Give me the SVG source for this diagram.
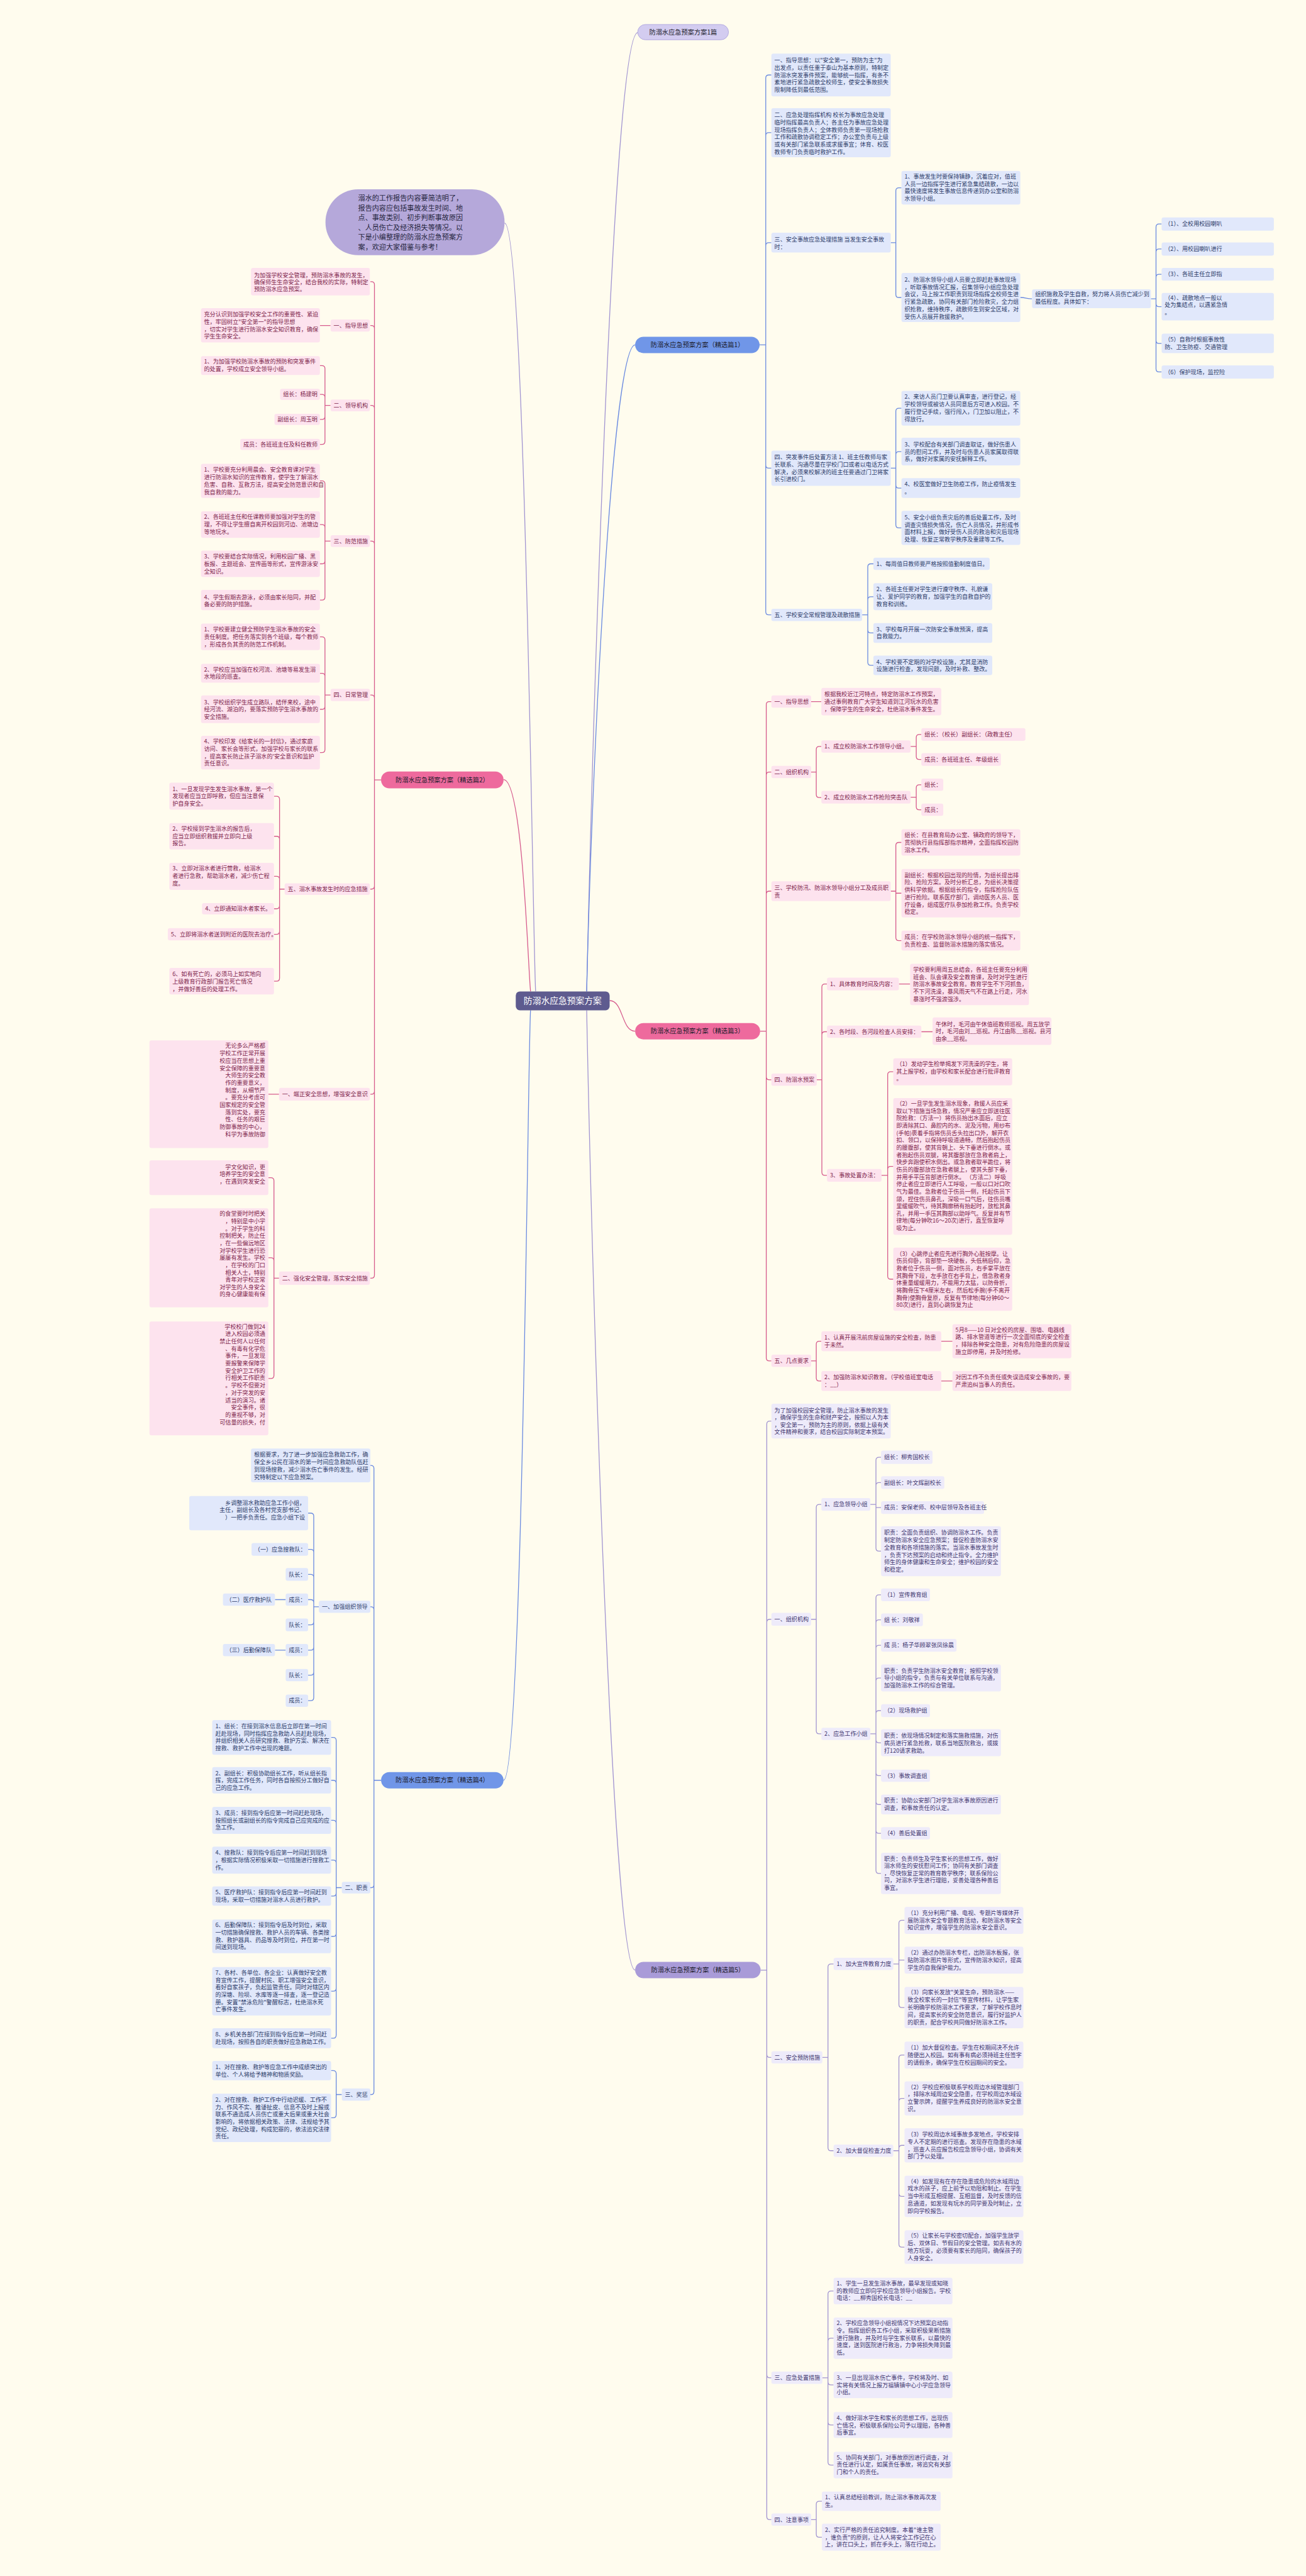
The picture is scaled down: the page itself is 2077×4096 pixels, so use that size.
<svg xmlns="http://www.w3.org/2000/svg" width="2077" height="4096" viewBox="0 0 2077 4096">
<style>
text{font-family:"Noto Sans CJK SC","Noto Sans",sans-serif;font-size:11.2px}
.tb{fill:#2d3c69}.tp{fill:#7d1f4c}.tu{fill:#40366f}
.rb{fill:#e1e8fb}.rp{fill:#fde3ee}.ru{fill:#eeebfa}
.cb,.cp,.cu{fill:none;stroke-width:1.6}
.cb{stroke:#6a8ae0}.cp{stroke:#d65a8c}.cu{stroke:#a194d1}
.mn{font-size:12.6px;fill:#1c1c2c;text-anchor:middle}
.e{text-anchor:end}
</style>
<rect width="2077" height="4096" fill="#fffcee"/>
<g transform="scale(0.81133)">
<g id="connectors">
<path class="cu" d="M989 437 C1030 440 1045 1900 1050 1943"/>
<path class="cu" d="M1150 1943 C1160 1500 1200 64 1250 64"/>
<path class="cb" d="M1150 1943 C1160 1500 1200 676 1245 676"/>
<path class="cp" d="M1195 1961 C1222 1961 1218 2021 1245 2021"/>
<path class="cu" d="M1150 1980 C1160 2500 1200 3861 1245 3861"/>
<path class="cp" d="M987 1528 C1025 1528 1035 1900 1040 1943"/>
<path class="cb" d="M987 3489 C1025 3489 1035 2020 1040 1980"/>
<path class="cb" d="M1489 676 H1501 V153 Q1501 147 1507 147 H1512 M1489 676 H1501 V266 Q1501 260 1507 260 H1512 M1489 676 H1501 V481.5 Q1501 475.5 1507 475.5 H1512 M1489 676 H1501 V911.5 Q1501 917.5 1507 917.5 H1512 M1489 676 H1501 V1199 Q1501 1205 1507 1205 H1512"/>
<path class="cb" d="M1746 475.5 H1756 V374 Q1756 368 1762 368 H1767 M1746 475.5 H1756 V577 Q1756 583 1762 583 H1767 M2000 583 C2012 583 2011 585.5 2023 585.5"/>
<path class="cb" d="M2256 585.5 H2266 V445 Q2266 439 2272 439 H2277 M2256 585.5 H2266 V494 Q2266 488 2272 488 H2277 M2256 585.5 H2266 V543.5 Q2266 537.5 2272 537.5 H2277 M2256 585.5 H2266 V595 Q2266 601 2272 601 H2277 M2256 585.5 H2266 V667 Q2266 673 2272 673 H2277 M2256 585.5 H2266 V723 Q2266 729 2272 729 H2277"/>
<path class="cb" d="M1746 917.5 H1756 V806 Q1756 800 1762 800 H1767 M1746 917.5 H1756 V891 Q1756 885 1762 885 H1767 M1746 917.5 H1756 V950.5 Q1756 956.5 1762 956.5 H1767 M1746 917.5 H1756 V1028.5 Q1756 1034.5 1762 1034.5 H1767"/>
<path class="cb" d="M1690 1205 H1701 V1111 Q1701 1105 1707 1105 H1712 M1690 1205 H1701 V1175.5 Q1701 1169.5 1707 1169.5 H1712 M1690 1205 H1701 V1234.5 Q1701 1240.5 1707 1240.5 H1712 M1690 1205 H1701 V1298 Q1701 1304 1707 1304 H1712"/>
<path class="cp" d="M1490 2021 H1502 V1381 Q1502 1375 1508 1375 H1512 M1490 2021 H1502 V1519 Q1502 1513 1508 1513 H1512 M1490 2021 H1502 V1752.5 Q1502 1746.5 1508 1746.5 H1512 M1490 2021 H1502 V2110 Q1502 2116 1508 2116 H1512 M1490 2021 H1502 V2661 Q1502 2667 1508 2667 H1512"/>
<path class="cp" d="M1590 1375 H1610 M1590 1513 H1600 V1469 Q1600 1463 1606 1463 H1610 M1590 1513 H1600 V1557 Q1600 1563 1606 1563 H1610"/>
<path class="cp" d="M1785 1463 H1796 V1445.5 Q1796 1439.5 1802 1439.5 H1806 M1785 1463 H1796 V1482.5 Q1796 1488.5 1802 1488.5 H1806 M1785 1562.5 H1796 V1544 Q1796 1538 1802 1538 H1806 M1785 1562.5 H1796 V1581 Q1796 1587 1802 1587 H1806"/>
<path class="cp" d="M1746 1746.5 H1756 V1657 Q1756 1651 1762 1651 H1767 M1746 1746.5 H1756 V1750.5 H1767 M1746 1746.5 H1756 V1837.5 Q1756 1843.5 1762 1843.5 H1767"/>
<path class="cp" d="M1601 2116 H1611 V1934.5 Q1611 1928.5 1617 1928.5 H1621 M1601 2116 H1611 V2028 Q1611 2022 1617 2022 H1621 M1601 2116 H1611 V2297.5 Q1611 2303.5 1617 2303.5 H1621 M1762 1928.5 H1784 M1806 2022 H1828"/>
<path class="cp" d="M1728 2303.5 H1740 V2106.5 Q1740 2100.5 1746 2100.5 H1751 M1728 2303.5 H1740 V2292 Q1740 2286 1746 2286 H1751 M1728 2303.5 H1740 V2501 Q1740 2507 1746 2507 H1751"/>
<path class="cp" d="M1590 2667 H1600 V2634.5 Q1600 2628.5 1606 2628.5 H1610 M1590 2667 H1600 V2700.5 Q1600 2706.5 1606 2706.5 H1610 M1845 2628.5 H1867 M1845 2706.5 H1867"/>
<path class="cu" d="M1491 3861 H1503 V2791 Q1503 2785 1509 2785 H1512 M1491 3861 H1503 V3179.5 Q1503 3173.5 1509 3173.5 H1512 M1491 3861 H1503 V4026 Q1503 4032 1509 4032 H1512 M1491 3861 H1503 V4654 Q1503 4660 1509 4660 H1512 M1491 3861 H1503 V4932 Q1503 4938 1509 4938 H1512"/>
<path class="cu" d="M1590 3173.5 H1600 V2954.5 Q1600 2948.5 1606 2948.5 H1610 M1590 3173.5 H1600 V3392 Q1600 3398 1606 3398 H1610"/>
<path class="cu" d="M1706 2948.5 H1717 V2862 Q1717 2856 1723 2856 H1727 M1706 2948.5 H1717 V2911.5 Q1717 2905.5 1723 2905.5 H1727 M1706 2948.5 H1717 V2954.5 H1727 M1706 2948.5 H1717 V3034 Q1717 3040 1723 3040 H1727"/>
<path class="cu" d="M1706 3398 H1717 V3131.5 Q1717 3125.5 1723 3125.5 H1727 M1706 3398 H1717 V3180.5 Q1717 3174.5 1723 3174.5 H1727 M1706 3398 H1717 V3230.5 Q1717 3224.5 1723 3224.5 H1727 M1706 3398 H1717 V3294.5 Q1717 3288.5 1723 3288.5 H1727 M1706 3398 H1717 V3358.5 Q1717 3352.5 1723 3352.5 H1727 M1706 3398 H1717 V3409.5 Q1717 3415.5 1723 3415.5 H1727 M1706 3398 H1717 V3474 Q1717 3480 1723 3480 H1727 M1706 3398 H1717 V3530.5 Q1717 3536.5 1723 3536.5 H1727 M1706 3398 H1717 V3587 Q1717 3593 1723 3593 H1727 M1706 3398 H1717 V3665.5 Q1717 3671.5 1723 3671.5 H1727"/>
<path class="cu" d="M1612 4032 H1623 V3855 Q1623 3849 1629 3849 H1634 M1612 4032 H1623 V4209 Q1623 4215 1629 4215 H1634"/>
<path class="cu" d="M1751 3849 H1762 V3769.5 Q1762 3763.5 1768 3763.5 H1773 M1751 3849 H1762 V3841.5 H1773 M1751 3849 H1762 V3928.5 Q1762 3934.5 1768 3934.5 H1773"/>
<path class="cu" d="M1751 4215 H1762 V4033.5 Q1762 4027.5 1768 4027.5 H1773 M1751 4215 H1762 V4118.5 Q1762 4112.5 1768 4112.5 H1773 M1751 4215 H1762 V4210.5 Q1762 4204.5 1768 4204.5 H1773 M1751 4215 H1762 V4298.5 Q1762 4304.5 1768 4304.5 H1773 M1751 4215 H1762 V4398 Q1762 4404 1768 4404 H1773"/>
<path class="cu" d="M1612 4660 H1623 V4496 Q1623 4490 1629 4490 H1634 M1612 4660 H1623 V4588.5 Q1623 4582.5 1629 4582.5 H1634 M1612 4660 H1623 V4668 Q1623 4674 1629 4674 H1634 M1612 4660 H1623 V4746.5 Q1623 4752.5 1629 4752.5 H1634 M1612 4660 H1623 V4825 Q1623 4831 1629 4831 H1634"/>
<path class="cu" d="M1590 4938 H1600 V4908 Q1600 4902 1606 4902 H1611 M1590 4938 H1600 V4966.5 Q1600 4972.5 1606 4972.5 H1611"/>
<path class="cp" d="M747 1528.5 H734 V558 Q734 552 728 552 H726 M747 1528.5 H734 V644 Q734 638 728 638 H726 M747 1528.5 H734 V800.5 Q734 794.5 728 794.5 H726 M747 1528.5 H734 V1066.5 Q734 1060.5 728 1060.5 H726 M747 1528.5 H734 V1368 Q734 1362 728 1362 H726 M747 1528.5 H734 V1736.5 Q734 1742.5 728 1742.5 H726 M747 1528.5 H734 V2138.5 Q734 2144.5 728 2144.5 H726 M747 1528.5 H734 V2499 Q734 2505 728 2505 H726"/>
<path class="cp" d="M648 638 H627 M648 794.5 H637 V722.5 Q637 716.5 631 716.5 H627 M648 794.5 H637 V779 Q637 773 631 773 H627 M648 794.5 H637 V816 Q637 822 631 822 H627 M648 794.5 H637 V865 Q637 871 631 871 H627"/>
<path class="cp" d="M648 1060.5 H637 V948.5 Q637 942.5 631 942.5 H627 M648 1060.5 H637 V1034 Q637 1028 631 1028 H627 M648 1060.5 H637 V1099 Q637 1105 631 1105 H627 M648 1060.5 H637 V1170 Q637 1176 631 1176 H627"/>
<path class="cp" d="M648 1362 H637 V1254 Q637 1248 631 1248 H627 M648 1362 H637 V1325.5 Q637 1319.5 631 1319.5 H627 M648 1362 H637 V1384 Q637 1390 631 1390 H627 M648 1362 H637 V1469 Q637 1475 631 1475 H627"/>
<path class="cp" d="M558 1742.5 H548 V1566.5 Q548 1560.5 542 1560.5 H537 M558 1742.5 H548 V1645 Q548 1639 542 1639 H537 M558 1742.5 H548 V1723.5 Q548 1717.5 542 1717.5 H537 M558 1742.5 H548 V1775 Q548 1781 542 1781 H537 M558 1742.5 H548 V1825 Q548 1831 542 1831 H537 M558 1742.5 H548 V1917 Q548 1923 542 1923 H537"/>
<path class="cp" d="M547 2144.5 H526 M547 2505 H537 V2314 Q537 2308 531 2308 H526 M547 2505 H537 V2471 Q537 2465 531 2465 H526 M547 2505 H537 V2695.5 Q537 2701.5 531 2701.5 H526"/>
<path class="cb" d="M747 3489 H733 V2878 Q733 2872 727 2872 H726 M747 3489 H733 V3155 Q733 3149 727 3149 H726 M747 3489 H733 V3693.5 Q733 3699.5 727 3699.5 H726 M747 3489 H733 V4099 Q733 4105 727 4105 H726"/>
<path class="cb" d="M625 3149 H615 V2971.5 Q615 2965.5 609 2965.5 H604 M625 3149 H615 V3042.5 Q615 3036.5 609 3036.5 H604 M625 3149 H615 V3091.5 Q615 3085.5 609 3085.5 H604 M625 3149 H615 V3141 Q615 3135 609 3135 H604 M625 3149 H615 V3178.5 Q615 3184.5 609 3184.5 H604 M625 3149 H615 V3228 Q615 3234 609 3234 H604 M625 3149 H615 V3277 Q615 3283 609 3283 H604 M625 3149 H615 V3327 Q615 3333 609 3333 H604 M560 3135 H539 M560 3234 H539"/>
<path class="cb" d="M670 3699.5 H659 V3411 Q659 3405 653 3405 H649 M670 3699.5 H659 V3495 Q659 3489 653 3489 H649 M670 3699.5 H659 V3573.5 Q659 3567.5 653 3567.5 H649 M670 3699.5 H659 V3651.5 Q659 3645.5 653 3645.5 H649 M670 3699.5 H659 V3710 Q659 3716 653 3716 H649 M670 3699.5 H659 V3789 Q659 3795 653 3795 H649 M670 3699.5 H659 V3896.5 Q659 3902.5 653 3902.5 H649 M670 3699.5 H659 V3988.5 Q659 3994.5 653 3994.5 H649"/>
<path class="cb" d="M670 4105 H659 V4064 Q659 4058 653 4058 H649 M670 4105 H659 V4144.5 Q659 4150.5 653 4150.5 H649"/>
</g>

<g id="center"><rect x="1011" y="1943" width="184" height="37" rx="8" fill="#5e5b8f"/><text x="1103" y="1967" style="font-size:17px;fill:#fff;text-anchor:middle">防溺水应急预案方案</text></g>
<g id="intro"><rect x="638" y="371" width="351" height="129" rx="64" fill="#b5a8da"/><text x="702" y="393" style="font-size:13.7px;fill:#262640"><tspan x="702">溺水的工作报告内容要简洁明了，</tspan><tspan x="702" dy="19.3">报告内容应包括事故发生时间、地</tspan><tspan x="702" dy="19.3">点、事故类别、初步判断事故原因</tspan><tspan x="702" dy="19.3">、人员伤亡及经济损失等情况。以</tspan><tspan x="702" dy="19.3">下是小编整理的防溺水应急预案方</tspan><tspan x="702" dy="19.3">案，欢迎大家借鉴与参考！</tspan></text></g>
<g id="p0"><rect x="1250" y="48" width="178" height="30" rx="15" fill="#d3ccf0" stroke="#a79ddb"/><text class="mn" x="1339" y="67.5">防溺水应急预案方案1篇</text></g>

<g id="n1"><rect x="1245" y="660" width="244" height="32" rx="16" fill="#7096e8"/><text class="mn" x="1367" y="680.5">防溺水应急预案方案（精选篇1）</text></g>
<g id="b1a"><rect class="rb" x="1512" y="105" width="234" height="84" rx="4"/><text class="tb" x="1518" y="122"><tspan x="1518">一、指导思想：以"安全第一，预防为主"为</tspan><tspan x="1518" dy="14.5">出发点，以责任重于泰山为基本原则，特制定</tspan><tspan x="1518" dy="14.5">防溺水突发事件预案，能够统一指挥，有条不</tspan><tspan x="1518" dy="14.5">紊地进行紧急疏散全校师生，使安全事故损失</tspan><tspan x="1518" dy="14.5">限制降低到最低范围。</tspan></text></g>
<g id="b1b"><rect class="rb" x="1512" y="212" width="234" height="96" rx="4"/><text class="tb" x="1518" y="229.5"><tspan x="1518">二、应急处理指挥机构 校长为事故应急处理</tspan><tspan x="1518" dy="14.5">临时指挥最高负责人；各主任为事故应急处理</tspan><tspan x="1518" dy="14.5">现场指挥负责人；全体教师负责第一现场抢救</tspan><tspan x="1518" dy="14.5">工作和疏散协调稳定工作；办公室负责与上级</tspan><tspan x="1518" dy="14.5">或有关部门紧急联系或求援事宜；体育、校医</tspan><tspan x="1518" dy="14.5">教师专门负责临时救护工作。</tspan></text></g>
<g id="b1c"><rect class="rb" x="1512" y="456" width="234" height="39" rx="4"/><text class="tb" x="1518" y="473"><tspan x="1518">三、安全事故应急处理措施 当发生安全事故</tspan><tspan x="1518" dy="14.5">时：</tspan></text></g>
<g id="b1c1"><rect class="rb" x="1767" y="335" width="233" height="66" rx="4"/><text class="tb" x="1773" y="350"><tspan x="1773">1、事故发生时要保持镇静，沉着应对，值班</tspan><tspan x="1773" dy="14.5">人员一边指挥学生进行紧急集结疏散，一边以</tspan><tspan x="1773" dy="14.5">最快速度将发生事故信息传递到办公室和防溺</tspan><tspan x="1773" dy="14.5">水领导小组。</tspan></text></g>
<g id="b1c2"><rect class="rb" x="1767" y="535" width="233" height="96" rx="4"/><text class="tb" x="1773" y="552"><tspan x="1773">2、防溺水领导小组人员要立即赶赴事故现场</tspan><tspan x="1773" dy="14.5">，听取事故情况汇报，召集领导小组应急处理</tspan><tspan x="1773" dy="14.5">会议，马上按工作职责到现场指挥全校师生进</tspan><tspan x="1773" dy="14.5">行紧急疏散，协同有关部门抢险救灾，全力组</tspan><tspan x="1773" dy="14.5">织抢救，维持秩序，疏散师生到安全区域，对</tspan><tspan x="1773" dy="14.5">受伤人员展开救援救护。</tspan></text></g>
<g id="b1c2a"><rect class="rb" x="2023" y="567" width="233" height="37" rx="4"/><text class="tb" x="2029" y="581"><tspan x="2029">组织施救及学生自救，努力将人员伤亡减少到</tspan><tspan x="2029" dy="14.5">最低程度。具体如下：</tspan></text></g>
<g id="b1s1"><rect class="rb" x="2277" y="426" width="220" height="26" rx="4"/><text class="tb" x="2283" y="443">（1）、全校用校园喇叭</text></g>
<g id="b1s2"><rect class="rb" x="2277" y="475" width="220" height="26" rx="4"/><text class="tb" x="2283" y="492">（2）、用校园喇叭进行</text></g>
<g id="b1s3"><rect class="rb" x="2277" y="525" width="220" height="25" rx="4"/><text class="tb" x="2283" y="541.5">（3）、各班主任立即指</text></g>
<g id="b1s4"><rect class="rb" x="2277" y="574" width="220" height="54" rx="4"/><text class="tb" x="2283" y="587.5"><tspan x="2283">（4）、疏散地点一般以</tspan><tspan x="2283" dy="14.5">处为集结点，以遇紧急情</tspan><tspan x="2283" dy="14.5">。</tspan></text></g>
<g id="b1s5"><rect class="rb" x="2277" y="654" width="220" height="38" rx="4"/><text class="tb" x="2283" y="669"><tspan x="2283">（5）自救时根据事故性</tspan><tspan x="2283" dy="14.5">防、卫生防疫、交通管理</tspan></text></g>
<g id="b1s6"><rect class="rb" x="2277" y="716" width="220" height="26" rx="4"/><text class="tb" x="2283" y="733">（6）保护现场，监控险</text></g>
<g id="b1d"><rect class="rb" x="1512" y="883" width="234" height="69" rx="4"/><text class="tb" x="1518" y="900"><tspan x="1518">四、突发事件后处置方法 1、班主任教师与家</tspan><tspan x="1518" dy="14.5">长联系、沟通尽量在学校门口或者以电话方式</tspan><tspan x="1518" dy="14.5">解决，必须来校解决的班主任要通过门卫将家</tspan><tspan x="1518" dy="14.5">长引进校门。</tspan></text></g>
<g id="b1d2"><rect class="rb" x="1767" y="766" width="233" height="68" rx="4"/><text class="tb" x="1773" y="782"><tspan x="1773">2、来访人员门卫要认真审查，进行登记，经</tspan><tspan x="1773" dy="14.5">学校领导或被访人员同意后方可进入校园。不</tspan><tspan x="1773" dy="14.5">履行登记手续，强行闯入，门卫加以阻止，不</tspan><tspan x="1773" dy="14.5">得放行。</tspan></text></g>
<g id="b1d3"><rect class="rb" x="1767" y="858" width="233" height="54" rx="4"/><text class="tb" x="1773" y="875"><tspan x="1773">3、学校配合有关部门调查取证，做好伤患人</tspan><tspan x="1773" dy="14.5">员的慰问工作，并及时与伤患人员家属取得联</tspan><tspan x="1773" dy="14.5">系，做好对家属的安抚解释工作。</tspan></text></g>
<g id="b1d4"><rect class="rb" x="1767" y="937" width="233" height="39" rx="4"/><text class="tb" x="1773" y="953"><tspan x="1773">4、校医室做好卫生防疫工作，防止疫情发生</tspan><tspan x="1773" dy="14.5">。</tspan></text></g>
<g id="b1d5"><rect class="rb" x="1767" y="1001" width="233" height="67" rx="4"/><text class="tb" x="1773" y="1018"><tspan x="1773">5、安全小组负责灾后的善后处置工作，及时</tspan><tspan x="1773" dy="14.5">调查灾情损失情况，伤亡人员情况，并形成书</tspan><tspan x="1773" dy="14.5">面材料上报，做好受伤人员的救治和灾后现场</tspan><tspan x="1773" dy="14.5">处理、恢复正常教学秩序及重建等工作。</tspan></text></g>
<g id="b1e"><rect class="rb" x="1512" y="1193" width="178" height="24" rx="4"/><text class="tb" x="1518" y="1209">五、学校安全常规管理及疏散措施</text></g>
<g id="b1e1"><rect class="rb" x="1712" y="1093" width="228" height="24" rx="4"/><text class="tb" x="1718" y="1109">1、每周值日教师要严格按照值勤制度值日。</text></g>
<g id="b1e2"><rect class="rb" x="1712" y="1143" width="233" height="53" rx="4"/><text class="tb" x="1718" y="1159"><tspan x="1718">2、各班主任要对学生进行遵守秩序、礼貌谦</tspan><tspan x="1718" dy="14.5">让、爱护同学的教育，加强学生的自救自护的</tspan><tspan x="1718" dy="14.5">教育和训练。</tspan></text></g>
<g id="b1e3"><rect class="rb" x="1712" y="1221" width="233" height="39" rx="4"/><text class="tb" x="1718" y="1237"><tspan x="1718">3、学校每月开展一次防安全事故预演，提高</tspan><tspan x="1718" dy="14.5">自救能力。</tspan></text></g>
<g id="b1e4"><rect class="rb" x="1712" y="1285" width="233" height="38" rx="4"/><text class="tb" x="1718" y="1301"><tspan x="1718">4、学校要不定期的对学校设施，尤其是消防</tspan><tspan x="1718" dy="14.5">设施进行检查，发现问题，及时补救、整改。</tspan></text></g>

<g id="n3"><rect x="1245" y="2005" width="245" height="32" rx="16" fill="#ee6a9d"/><text class="mn" x="1367" y="2025.5">防溺水应急预案方案（精选篇3）</text></g>
<g id="p3a"><rect class="rp" x="1512" y="1363" width="78" height="24" rx="4"/><text class="tp" x="1518" y="1379">一、指导思想</text></g>
<g id="p3a1"><rect class="rp" x="1610" y="1348" width="235" height="54" rx="4"/><text class="tp" x="1616" y="1365"><tspan x="1616">根据我校近江河特点，特定防溺水工作预案，</tspan><tspan x="1616" dy="14.5">通过事例教育广大学生知道到江河玩水的危害</tspan><tspan x="1616" dy="14.5">，保障学生的生命安全，杜绝溺水事件发生。</tspan></text></g>
<g id="p3b"><rect class="rp" x="1512" y="1501" width="78" height="24" rx="4"/><text class="tp" x="1518" y="1517">二、组织机构</text></g>
<g id="p3b1"><rect class="rp" x="1610" y="1451" width="175" height="24" rx="4"/><text class="tp" x="1616" y="1467">1、成立校防溺水工作领导小组。</text></g>
<g id="p3b1a"><rect class="rp" x="1806" y="1427" width="204" height="25" rx="4"/><text class="tp" x="1812" y="1443.5">组长：（校长）副组长：（政教主任）</text></g>
<g id="p3b1b"><rect class="rp" x="1806" y="1476" width="156" height="25" rx="4"/><text class="tp" x="1812" y="1492.5">成员：各班班主任、年级组长</text></g>
<g id="p3b2"><rect class="rp" x="1610" y="1550" width="175" height="25" rx="4"/><text class="tp" x="1616" y="1566.5">2、成立校防溺水工作抢险突击队</text></g>
<g id="p3b2a"><rect class="rp" x="1806" y="1526" width="43" height="24" rx="4"/><text class="tp" x="1812" y="1542">组长：</text></g>
<g id="p3b2b"><rect class="rp" x="1806" y="1575" width="43" height="24" rx="4"/><text class="tp" x="1812" y="1591">成员：</text></g>
<g id="p3c"><rect class="rp" x="1512" y="1727" width="234" height="39" rx="4"/><text class="tp" x="1518" y="1744"><tspan x="1518">三、学校防汛、防溺水领导小组分工及成员职</tspan><tspan x="1518" dy="14.5">责</tspan></text></g>
<g id="p3c1"><rect class="rp" x="1767" y="1625" width="233" height="52" rx="4"/><text class="tp" x="1773" y="1641"><tspan x="1773">组长：在县教育局办公室、镇政府的领导下，</tspan><tspan x="1773" dy="14.5">贯彻执行县指挥部指示精神，全面指挥校园防</tspan><tspan x="1773" dy="14.5">溺水工作。</tspan></text></g>
<g id="p3c2"><rect class="rp" x="1767" y="1703" width="233" height="95" rx="4"/><text class="tp" x="1773" y="1719"><tspan x="1773">副组长：根据校园出现的险情，为组长提出排</tspan><tspan x="1773" dy="14.5">险、抢险方案。及时分析汇总，为组长决策提</tspan><tspan x="1773" dy="14.5">供科学依据。根据组长的指令，指挥抢险队伍</tspan><tspan x="1773" dy="14.5">进行抢险。联系医疗部门，调动医务人员、医</tspan><tspan x="1773" dy="14.5">疗设备，组成医疗队参加抢救工作。负责学校</tspan><tspan x="1773" dy="14.5">稳定。</tspan></text></g>
<g id="p3c3"><rect class="rp" x="1767" y="1824" width="233" height="39" rx="4"/><text class="tp" x="1773" y="1840"><tspan x="1773">成员：在学校防溺水领导小组的统一指挥下，</tspan><tspan x="1773" dy="14.5">负责检查、监督防溺水措施的落实情况。</tspan></text></g>
<g id="p3d"><rect class="rp" x="1512" y="2104" width="89" height="24" rx="4"/><text class="tp" x="1518" y="2120">四、防溺水预案</text></g>
<g id="p3d1"><rect class="rp" x="1621" y="1916" width="141" height="25" rx="4"/><text class="tp" x="1627" y="1932.5">1、具体教育时间及内容：</text></g>
<g id="p3d1a"><rect class="rp" x="1784" y="1889" width="233" height="81" rx="4"/><text class="tp" x="1790" y="1904"><tspan x="1790">学校要利用周五总结会，各班主任要充分利用</tspan><tspan x="1790" dy="14.5">班会、队会课及安全教育课，及时对学生进行</tspan><tspan x="1790" dy="14.5">防溺水事故安全教育。教育学生不下河抓鱼，</tspan><tspan x="1790" dy="14.5">不下河洗澡，暴风雨天气不在路上行走，河水</tspan><tspan x="1790" dy="14.5">暴涨时不强渡强涉。</tspan></text></g>
<g id="p3d2"><rect class="rp" x="1621" y="2010" width="185" height="24" rx="4"/><text class="tp" x="1627" y="2026">2、各时段、各河段检查人员安排：</text></g>
<g id="p3d2a"><rect class="rp" x="1828" y="1994" width="233" height="54" rx="4"/><text class="tp" x="1834" y="2011"><tspan x="1834">午休时，毛河由午休值班教师巡视。周五放学</tspan><tspan x="1834" dy="14.5">时，毛河由刘__巡视。丹江由陈__巡视。县河</tspan><tspan x="1834" dy="14.5">由余__巡视。</tspan></text></g>
<g id="p3d3"><rect class="rp" x="1621" y="2291" width="107" height="25" rx="4"/><text class="tp" x="1627" y="2307.5">3、事故处置办法：</text></g>
<g id="p3d3a"><rect class="rp" x="1751" y="2074" width="233" height="53" rx="4"/><text class="tp" x="1757" y="2089"><tspan x="1757">（1）发动学生检举揭发下河洗澡的学生，将</tspan><tspan x="1757" dy="14.5">其上报学校，由学校和家长配合进行批评教育</tspan><tspan x="1757" dy="14.5">。</tspan></text></g>
<g id="p3d3b"><rect class="rp" x="1751" y="2152" width="233" height="268" rx="4"/><text class="tp" x="1757" y="2167"><tspan x="1757">（2）一旦学生发生溺水现象，救援人员应采</tspan><tspan x="1757" dy="14.35">取以下措施当场急救，情况严重应立即送往医</tspan><tspan x="1757" dy="14.35">院抢救：（方法一）将伤员抬出水面后，应立</tspan><tspan x="1757" dy="14.35">即清除其口、鼻腔内的水、泥及污物，用纱布</tspan><tspan x="1757" dy="14.35">(手帕)裹着手指将伤员舌头拉出口外，解开衣</tspan><tspan x="1757" dy="14.35">扣、领口，以保持呼吸道通畅，然后抱起伤员</tspan><tspan x="1757" dy="14.35">的腰腹部，使其背朝上、头下垂进行倒水。或</tspan><tspan x="1757" dy="14.35">者抱起伤员双腿，将其腹部放在急救者肩上，</tspan><tspan x="1757" dy="14.35">快步奔跑使积水倒出。或急救者取半跪位，将</tspan><tspan x="1757" dy="14.35">伤员的腹部放在急救者腿上，使其头部下垂，</tspan><tspan x="1757" dy="14.35">并用手平压背部进行倒水。 （方法二）呼吸</tspan><tspan x="1757" dy="14.35">停止者应立即进行人工呼吸，一般以口对口吹</tspan><tspan x="1757" dy="14.35">气为最佳。急救者位于伤员一侧，托起伤员下</tspan><tspan x="1757" dy="14.35">颌，捏住伤员鼻孔，深吸一口气后，往伤员嘴</tspan><tspan x="1757" dy="14.35">里缓缓吹气，待其胸廓稍有抬起时，放松其鼻</tspan><tspan x="1757" dy="14.35">孔，并用一手压其胸部以助呼气。反复并有节</tspan><tspan x="1757" dy="14.35">律地(每分钟吹16～20次)进行，直至恢复呼</tspan><tspan x="1757" dy="14.35">吸为止。</tspan></text></g>
<g id="p3d3c"><rect class="rp" x="1751" y="2445" width="233" height="124" rx="4"/><text class="tp" x="1757" y="2461"><tspan x="1757">（3）心跳停止者应先进行胸外心脏按摩。让</tspan><tspan x="1757" dy="14.35">伤员仰卧，背部垫一块硬板，头低稍后仰，急</tspan><tspan x="1757" dy="14.35">救者位于伤员一侧，面对伤员，右手掌平放在</tspan><tspan x="1757" dy="14.35">其胸骨下段，左手放在右手背上，借急救者身</tspan><tspan x="1757" dy="14.35">体重量缓缓用力，不能用力太猛，以防骨折，</tspan><tspan x="1757" dy="14.35">将胸骨压下4厘米左右，然后松手腕(手不离开</tspan><tspan x="1757" dy="14.35">胸骨)使胸骨复原，反复有节律地(每分钟60～</tspan><tspan x="1757" dy="14.35">80次)进行，直到心跳恢复为止</tspan></text></g>
<g id="p3e"><rect class="rp" x="1512" y="2655" width="78" height="24" rx="4"/><text class="tp" x="1518" y="2671">五、几点要求</text></g>
<g id="p3e1"><rect class="rp" x="1610" y="2609" width="235" height="39" rx="4"/><text class="tp" x="1616" y="2625"><tspan x="1616">1、认真开展汛前房屋设施的安全检查，防患</tspan><tspan x="1616" dy="14.5">于未然。</tspan></text></g>
<g id="p3e1a"><rect class="rp" x="1867" y="2595" width="233" height="67" rx="4"/><text class="tp" x="1873" y="2610"><tspan x="1873">5月8——10 日对全校的房屋、围墙、电器线</tspan><tspan x="1873" dy="14.5">路、排水管道等进行一次全面彻底的安全检查</tspan><tspan x="1873" dy="14.5">，排除各种安全隐患，对有危险隐患的房屋设</tspan><tspan x="1873" dy="14.5">施立即停用，并及时抢修。</tspan></text></g>
<g id="p3e2"><rect class="rp" x="1610" y="2687" width="235" height="39" rx="4"/><text class="tp" x="1616" y="2703"><tspan x="1616">2、加强防溺水知识教育。（学校值班室电话</tspan><tspan x="1616" dy="14.5">：__）</tspan></text></g>
<g id="p3e2a"><rect class="rp" x="1867" y="2687" width="233" height="39" rx="4"/><text class="tp" x="1873" y="2703"><tspan x="1873">对因工作不负责任或失误造成安全事故的，要</tspan><tspan x="1873" dy="14.5">严肃追纠当事人的责任。</tspan></text></g>

<g id="n5"><rect x="1245" y="3845" width="246" height="32" rx="16" fill="#a99bd8"/><text class="mn" x="1368" y="3865.5">防溺水应急预案方案（精选篇5）</text></g>
<g id="u5a"><rect class="ru" x="1512" y="2751" width="234" height="68" rx="4"/><text class="tu" x="1518" y="2768"><tspan x="1518">为了加强校园安全管理，防止溺水事故的发生</tspan><tspan x="1518" dy="14.2">，确保学生的生命和财产安全，按照以人为本</tspan><tspan x="1518" dy="14.2">，安全第一，预防为主的原则，依据上级有关</tspan><tspan x="1518" dy="14.2">文件精神和要求，结合校园实际制定本预案。</tspan></text></g>
<g id="u5b"><rect class="ru" x="1512" y="3161" width="78" height="25" rx="4"/><text class="tu" x="1518" y="3177.5">一、组织机构</text></g>
<g id="u5b1"><rect class="ru" x="1610" y="2936" width="96" height="25" rx="4"/><text class="tu" x="1616" y="2952.5">1、应急领导小组</text></g>
<g id="u5b1a"><rect class="ru" x="1727" y="2843" width="101" height="26" rx="4"/><text class="tu" x="1733" y="2860">组长：柳秀国校长</text></g>
<g id="u5b1b"><rect class="ru" x="1727" y="2893" width="124" height="25" rx="4"/><text class="tu" x="1733" y="2909.5">副组长：叶文辉副校长</text></g>
<g id="u5b1c"><rect class="ru" x="1727" y="2942" width="202" height="25" rx="4"/><text class="tu" x="1733" y="2958.5">成员：安保老师、校中层领导及各班主任</text></g>
<g id="u5b1d"><rect class="ru" x="1727" y="2991" width="235" height="98" rx="4"/><text class="tu" x="1733" y="3008"><tspan x="1733">职责：全面负责组织、协调防溺水工作。负责</tspan><tspan x="1733" dy="14.4">制定防溺水安全应急预案；督促检查防溺水安</tspan><tspan x="1733" dy="14.4">全教育和各项措施的落实。当溺水事故发生时</tspan><tspan x="1733" dy="14.4">，负责下达预案的启动和终止指令。全力维护</tspan><tspan x="1733" dy="14.4">师生的身体健康和生命安全；维护校园的安全</tspan><tspan x="1733" dy="14.4">和稳定。</tspan></text></g>
<g id="u5b2"><rect class="ru" x="1610" y="3386" width="96" height="24" rx="4"/><text class="tu" x="1616" y="3402">2、应急工作小组</text></g>
<g id="u5b2a"><rect class="ru" x="1727" y="3113" width="96" height="25" rx="4"/><text class="tu" x="1733" y="3129.5">（1）宣传教育组</text></g>
<g id="u5b2b"><rect class="ru" x="1727" y="3162" width="82" height="25" rx="4"/><text class="tu" x="1733" y="3178.5">组 长：刘敬祥</text></g>
<g id="u5b2c"><rect class="ru" x="1727" y="3212" width="148" height="25" rx="4"/><text class="tu" x="1733" y="3228.5">成 员：杨子华顾翠张凤徐晨</text></g>
<g id="u5b2d"><rect class="ru" x="1727" y="3262" width="235" height="53" rx="4"/><text class="tu" x="1733" y="3278"><tspan x="1733">职责：负责学生防溺水安全教育；按照学校领</tspan><tspan x="1733" dy="14.4">导小组的指令，负责与有关单位联系与沟通，</tspan><tspan x="1733" dy="14.4">加强防溺水工作的综合管理。</tspan></text></g>
<g id="u5b2e"><rect class="ru" x="1727" y="3340" width="96" height="25" rx="4"/><text class="tu" x="1733" y="3356.5">（2）现场救护组</text></g>
<g id="u5b2f"><rect class="ru" x="1727" y="3389" width="235" height="53" rx="4"/><text class="tu" x="1733" y="3406"><tspan x="1733">职责：依现场情况制定和落实施救措施，对伤</tspan><tspan x="1733" dy="14.4">病员进行紧急抢救，联系当地医院救治，或拨</tspan><tspan x="1733" dy="14.4">打120请求救助。</tspan></text></g>
<g id="u5b2g"><rect class="ru" x="1727" y="3468" width="96" height="24" rx="4"/><text class="tu" x="1733" y="3484">（3）事故调查组</text></g>
<g id="u5b2h"><rect class="ru" x="1727" y="3517" width="235" height="39" rx="4"/><text class="tu" x="1733" y="3533"><tspan x="1733">职责：协助公安部门对学生溺水事故原因进行</tspan><tspan x="1733" dy="14.5">调查，和事故责任的认定。</tspan></text></g>
<g id="u5b2i"><rect class="ru" x="1727" y="3581" width="96" height="24" rx="4"/><text class="tu" x="1733" y="3597">（4）善后处置组</text></g>
<g id="u5b2j"><rect class="ru" x="1727" y="3631" width="235" height="81" rx="4"/><text class="tu" x="1733" y="3647"><tspan x="1733">职责：负责师生及学生家长的思想工作，做好</tspan><tspan x="1733" dy="14.2">溺水师生的安抚慰问工作；协同有关部门调查</tspan><tspan x="1733" dy="14.2">，尽快恢复正常的教育教学秩序；联系保险公</tspan><tspan x="1733" dy="14.2">司，对溺水学生进行理赔，妥善处理各种善后</tspan><tspan x="1733" dy="14.2">事宜。</tspan></text></g>
<g id="u5c"><rect class="ru" x="1512" y="4020" width="100" height="24" rx="4"/><text class="tu" x="1518" y="4036">二、安全预防措施</text></g>
<g id="u5c1"><rect class="ru" x="1634" y="3837" width="117" height="24" rx="4"/><text class="tu" x="1640" y="3853">1、加大宣传教育力度</text></g>
<g id="u5c1a"><rect class="ru" x="1773" y="3737" width="233" height="53" rx="4"/><text class="tu" x="1779" y="3753"><tspan x="1779">（1）充分利用广播、电视、专题片等媒体开</tspan><tspan x="1779" dy="14.5">展防溺水安全专题教育活动，和防溺水等安全</tspan><tspan x="1779" dy="14.5">知识宣传，增强学生的防溺水安全意识。</tspan></text></g>
<g id="u5c1b"><rect class="ru" x="1773" y="3815" width="233" height="53" rx="4"/><text class="tu" x="1779" y="3831"><tspan x="1779">（2）通过办防溺水专栏，出防溺水板报，张</tspan><tspan x="1779" dy="14.5">贴防溺水图片等形式，宣传防溺水知识，提高</tspan><tspan x="1779" dy="14.5">学生的自我保护能力。</tspan></text></g>
<g id="u5c1c"><rect class="ru" x="1773" y="3894" width="233" height="81" rx="4"/><text class="tu" x="1779" y="3909"><tspan x="1779">（3）向家长发放"关爱生命，预防溺水——</tspan><tspan x="1779" dy="14.5">致全校家长的一封信"等宣传材料，让学生家</tspan><tspan x="1779" dy="14.5">长明确学校防溺水工作要求，了解学校作息时</tspan><tspan x="1779" dy="14.5">间，提高家长的安全防范意识，履行好监护人</tspan><tspan x="1779" dy="14.5">的职责，配合学校共同做好防溺水工作。</tspan></text></g>
<g id="u5c2"><rect class="ru" x="1634" y="4203" width="117" height="24" rx="4"/><text class="tu" x="1640" y="4219">2、加大督促检查力度</text></g>
<g id="u5c2a"><rect class="ru" x="1773" y="4001" width="233" height="53" rx="4"/><text class="tu" x="1779" y="4017"><tspan x="1779">（1）加大督促检查。学生在校期间决不允许</tspan><tspan x="1779" dy="14.5">随便出入校园。如有事有病必须持班主任签字</tspan><tspan x="1779" dy="14.5">的请假条，确保学生在校园期间的安全。</tspan></text></g>
<g id="u5c2b"><rect class="ru" x="1773" y="4079" width="233" height="67" rx="4"/><text class="tu" x="1779" y="4094"><tspan x="1779">（2）学校应积极联系学校周边水域管理部门</tspan><tspan x="1779" dy="14.5">，排除水域周边安全隐患，在学校周边水域设</tspan><tspan x="1779" dy="14.5">立警示牌，提醒学生养成良好的防溺水安全意</tspan><tspan x="1779" dy="14.5">识。</tspan></text></g>
<g id="u5c2c"><rect class="ru" x="1773" y="4171" width="233" height="67" rx="4"/><text class="tu" x="1779" y="4187"><tspan x="1779">（3）学校周边水域事故多发地点，学校安排</tspan><tspan x="1779" dy="14.5">专人不定期的进行巡查。发现存在隐患的水域</tspan><tspan x="1779" dy="14.5">，巡查人员应报告校应急领导小组，协调有关</tspan><tspan x="1779" dy="14.5">部门予以处理。</tspan></text></g>
<g id="u5c2d"><rect class="ru" x="1773" y="4264" width="233" height="81" rx="4"/><text class="tu" x="1779" y="4279"><tspan x="1779">（4）如发现有在存在隐患或危险的水域周边</tspan><tspan x="1779" dy="14.5">戏水的孩子，应上前予以劝阻和制止。在学生</tspan><tspan x="1779" dy="14.5">当中形成互相提醒、互相监督，及时反馈的信</tspan><tspan x="1779" dy="14.5">息通道，如发现有玩水的同学要及时制止，立</tspan><tspan x="1779" dy="14.5">即向学校报告。</tspan></text></g>
<g id="u5c2e"><rect class="ru" x="1773" y="4371" width="233" height="66" rx="4"/><text class="tu" x="1779" y="4386"><tspan x="1779">（5）让家长与学校密切配合，加强学生放学</tspan><tspan x="1779" dy="14.5">后、双休日、节假日的安全管理。如去有水的</tspan><tspan x="1779" dy="14.5">地方玩耍，必须要有家长的陪同，确保孩子的</tspan><tspan x="1779" dy="14.5">人身安全。</tspan></text></g>
<g id="u5d"><rect class="ru" x="1512" y="4648" width="100" height="24" rx="4"/><text class="tu" x="1518" y="4664">三、应急处置措施</text></g>
<g id="u5d1"><rect class="ru" x="1634" y="4464" width="233" height="52" rx="4"/><text class="tu" x="1640" y="4479"><tspan x="1640">1、学生一旦发生溺水事故，最早发现或知晓</tspan><tspan x="1640" dy="14.3">的教师应立即向学校应急领导小组报告。学校</tspan><tspan x="1640" dy="14.3">电话：__柳秀国校长电话：__</tspan></text></g>
<g id="u5d2"><rect class="ru" x="1634" y="4542" width="233" height="81" rx="4"/><text class="tu" x="1640" y="4557"><tspan x="1640">2、学校应急领导小组视情况下达预案启动指</tspan><tspan x="1640" dy="14.4">令。指挥组织各工作小组，采取积极果断措施</tspan><tspan x="1640" dy="14.4">进行施救，并及时与学生家长联系，以最快的</tspan><tspan x="1640" dy="14.4">速度，送到医院进行救治，力争将损失降到最</tspan><tspan x="1640" dy="14.4">低。</tspan></text></g>
<g id="u5d3"><rect class="ru" x="1634" y="4648" width="233" height="52" rx="4"/><text class="tu" x="1640" y="4664"><tspan x="1640">3、一旦出现溺水伤亡事件，学校将及时、如</tspan><tspan x="1640" dy="14.3">实将有关情况上报万福镇镇中心小学应急领导</tspan><tspan x="1640" dy="14.3">小组。</tspan></text></g>
<g id="u5d4"><rect class="ru" x="1634" y="4727" width="233" height="51" rx="4"/><text class="tu" x="1640" y="4743"><tspan x="1640">4、做好溺水学生和家长的思想工作，出现伤</tspan><tspan x="1640" dy="14.3">亡情况，积极联系保险公司予以理赔，各种善</tspan><tspan x="1640" dy="14.3">后事宜。</tspan></text></g>
<g id="u5d5"><rect class="ru" x="1634" y="4805" width="233" height="52" rx="4"/><text class="tu" x="1640" y="4820"><tspan x="1640">5、协同有关部门，对事故原因进行调查，对</tspan><tspan x="1640" dy="14.3">责任进行认定，如属责任事故，将追究有关部</tspan><tspan x="1640" dy="14.3">门和个人的责任。</tspan></text></g>
<g id="u5e"><rect class="ru" x="1512" y="4926" width="78" height="24" rx="4"/><text class="tu" x="1518" y="4942">四、注意事项</text></g>
<g id="u5e1"><rect class="ru" x="1611" y="4883" width="233" height="38" rx="4"/><text class="tu" x="1617" y="4898"><tspan x="1617">1、认真总结经验教训，防止溺水事故再次发</tspan><tspan x="1617" dy="14.4">生。</tspan></text></g>
<g id="u5e2"><rect class="ru" x="1611" y="4946" width="233" height="53" rx="4"/><text class="tu" x="1617" y="4962"><tspan x="1617">2、实行严格的责任追究制度。本着"谁主管</tspan><tspan x="1617" dy="14.4">，谁负责"的原则，让人人将安全工作记在心</tspan><tspan x="1617" dy="14.4">上，讲在口头上，抓在手头上，落在行动上。</tspan></text></g>

<g id="n2"><rect x="747" y="1512" width="240" height="33" rx="16" fill="#ee6a9d"/><text class="mn" x="867" y="1533">防溺水应急预案方案（精选篇2）</text></g>
<g id="p2a"><rect class="rp" x="492" y="525" width="233" height="54" rx="4"/><text class="tp" x="498" y="543"><tspan x="498">为加强学校安全管理，预防溺水事故的发生，</tspan><tspan x="498" dy="14">确保师生生命安全，结合我校的实际，特制定</tspan><tspan x="498" dy="14">预防溺水应急预案。</tspan></text></g>
<g id="p2b"><rect class="rp" x="648" y="626" width="77" height="24" rx="4"/><text class="tp" x="654" y="642">一、指导思想</text></g>
<g id="p2b1"><rect class="rp" x="394" y="604" width="233" height="67" rx="4"/><text class="tp" x="400" y="620"><tspan x="400">充分认识到加强学校安全工作的重要性、紧迫</tspan><tspan x="400" dy="14.5">性，牢固树立"安全第一"的指导思想</tspan><tspan x="400" dy="14.5">，切实对学生进行防溺水安全知识教育，确保</tspan><tspan x="400" dy="14.5">学生生命安全。</tspan></text></g>
<g id="p2c"><rect class="rp" x="648" y="783" width="77" height="23" rx="4"/><text class="tp" x="654" y="798.5">二、领导机构</text></g>
<g id="p2c1"><rect class="rp" x="394" y="698" width="233" height="37" rx="4"/><text class="tp" x="400" y="713"><tspan x="400">1、为加强学校防溺水事故的预防和突发事件</tspan><tspan x="400" dy="14.5">的处置，学校成立安全领导小组。</tspan></text></g>
<g id="p2c2"><rect class="rp" x="549" y="762" width="78" height="22" rx="4"/><text class="tp" x="555" y="777">组长：杨建明</text></g>
<g id="p2c3"><rect class="rp" x="538" y="811" width="89" height="22" rx="4"/><text class="tp" x="544" y="826">副组长：周玉明</text></g>
<g id="p2c4"><rect class="rp" x="471" y="860" width="156" height="22" rx="4"/><text class="tp" x="477" y="875">成员：各班班主任及科任教师</text></g>
<g id="p2d"><rect class="rp" x="648" y="1049" width="77" height="23" rx="4"/><text class="tp" x="654" y="1064.5">三、防范措施</text></g>
<g id="p2d1"><rect class="rp" x="394" y="909" width="233" height="67" rx="4"/><text class="tp" x="400" y="925"><tspan x="400">1、学校要充分利用晨会、安全教育课对学生</tspan><tspan x="400" dy="14.5">进行防溺水知识的宣传教育，使学生了解溺水</tspan><tspan x="400" dy="14.5">危害、自救、互救方法，提高安全防范意识和自</tspan><tspan x="400" dy="14.5">我自救的能力。</tspan></text></g>
<g id="p2d2"><rect class="rp" x="394" y="1002" width="233" height="52" rx="4"/><text class="tp" x="400" y="1017"><tspan x="400">2、各班班主任和任课教师要加强对学生的管</tspan><tspan x="400" dy="14.5">理，不得让学生擅自离开校园到河边、池塘边</tspan><tspan x="400" dy="14.5">等地玩水。</tspan></text></g>
<g id="p2d3"><rect class="rp" x="394" y="1079" width="233" height="52" rx="4"/><text class="tp" x="400" y="1095"><tspan x="400">3、学校要结合实际情况，利用校园广播、黑</tspan><tspan x="400" dy="14.5">板报、主题班会、宣传画等形式，宣传游泳安</tspan><tspan x="400" dy="14.5">全知识。</tspan></text></g>
<g id="p2d4"><rect class="rp" x="394" y="1156" width="233" height="40" rx="4"/><text class="tp" x="400" y="1174"><tspan x="400">4、学生假期去游泳，必须由家长陪同，并配</tspan><tspan x="400" dy="14.5">备必要的防护措施。</tspan></text></g>
<g id="p2e"><rect class="rp" x="648" y="1350" width="77" height="24" rx="4"/><text class="tp" x="654" y="1366">四、日常管理</text></g>
<g id="p2e1"><rect class="rp" x="394" y="1222" width="233" height="52" rx="4"/><text class="tp" x="400" y="1238"><tspan x="400">1、学校要建立健全预防学生溺水事故的安全</tspan><tspan x="400" dy="14.5">责任制度。把任务落实到各个班级，每个教师</tspan><tspan x="400" dy="14.5">，形成各负其责的防范工作机制。</tspan></text></g>
<g id="p2e2"><rect class="rp" x="394" y="1301" width="233" height="37" rx="4"/><text class="tp" x="400" y="1316"><tspan x="400">2、学校应当加强在校河流、池塘等易发生溺</tspan><tspan x="400" dy="14.5">水地段的巡查。</tspan></text></g>
<g id="p2e3"><rect class="rp" x="394" y="1363" width="233" height="54" rx="4"/><text class="tp" x="400" y="1380"><tspan x="400">3、学校组织学生成立路队，结伴来校，途中</tspan><tspan x="400" dy="14.5">经河流、湖泊的，要落实预防学生溺水事故的</tspan><tspan x="400" dy="14.5">安全措施。</tspan></text></g>
<g id="p2e4"><rect class="rp" x="394" y="1442" width="233" height="66" rx="4"/><text class="tp" x="400" y="1457"><tspan x="400">4、学校印发《给家长的一封信》，通过家庭</tspan><tspan x="400" dy="14.5">访问、家长会等形式，加强学校与家长的联系</tspan><tspan x="400" dy="14.5">，提高家长防止孩子溺水的'安全意识和监护</tspan><tspan x="400" dy="14.5">责任意识。</tspan></text></g>
<g id="p2f"><rect class="rp" x="558" y="1731" width="167" height="23" rx="4"/><text class="tp" x="564" y="1746.5">五、溺水事故发生时的应急措施</text></g>
<g id="p2f1"><rect class="rp" x="332" y="1534" width="205" height="53" rx="4"/><text class="tp" x="338" y="1550"><tspan x="338">1、一旦发现学生发生溺水事故，第一个</tspan><tspan x="338" dy="14.5">发现者应当立即呼救，但应当注意保</tspan><tspan x="338" dy="14.5">护自身安全。</tspan></text></g>
<g id="p2f2"><rect class="rp" x="332" y="1613" width="205" height="52" rx="4"/><text class="tp" x="338" y="1628"><tspan x="338">2、学校接到学生溺水的报告后，</tspan><tspan x="338" dy="14.5">应当立即组织救援并立即向上级</tspan><tspan x="338" dy="14.5">报告。</tspan></text></g>
<g id="p2f3"><rect class="rp" x="332" y="1691" width="205" height="53" rx="4"/><text class="tp" x="338" y="1706"><tspan x="338">3、立即对溺水者进行营救，给溺水</tspan><tspan x="338" dy="14.5">者进行急救，帮助溺水者，减少伤亡程</tspan><tspan x="338" dy="14.5">度。</tspan></text></g>
<g id="p2f4"><rect class="rp" x="396" y="1770" width="141" height="22" rx="4"/><text class="tp" x="402" y="1785">4、立即通知溺水者家长。</text></g>
<g id="p2f5"><rect class="rp" x="329" y="1819" width="208" height="24" rx="4"/><text class="tp" x="335" y="1835">5、立即将溺水者送到附近的医院去治疗。</text></g>
<g id="p2f6"><rect class="rp" x="332" y="1897" width="205" height="52" rx="4"/><text class="tp" x="338" y="1913"><tspan x="338">6、如有死亡的，必须马上如实地向</tspan><tspan x="338" dy="14.5">上级教育行政部门报告死亡情况</tspan><tspan x="338" dy="14.5">，并做好善后的处理工作。</tspan></text></g>
<g id="p2g"><rect class="rp" x="547" y="2132" width="178" height="25" rx="4"/><text class="tp" x="553" y="2148.5">一、端正安全思想，增强安全意识</text></g>
<g id="p2g1"><rect class="rp" x="293" y="2039" width="233" height="211" rx="4"/><text class="tp e" x="520" y="2054"><tspan x="520">无论多么严格都</tspan><tspan x="520" dy="14.4">学校工作正常开展</tspan><tspan x="520" dy="14.4">校应当在思想上重</tspan><tspan x="520" dy="14.4">安全保障的重要意</tspan><tspan x="520" dy="14.4">大师生的安全教</tspan><tspan x="520" dy="14.4">作的重要意义，</tspan><tspan x="520" dy="14.4">制度，从细节严</tspan><tspan x="520" dy="14.4">。要充分考虑可</tspan><tspan x="520" dy="14.4">国家规定的安全管</tspan><tspan x="520" dy="14.4">落到实处，要充</tspan><tspan x="520" dy="14.4">性、任务的艰巨</tspan><tspan x="520" dy="14.4">防御事故的中心，</tspan><tspan x="520" dy="14.4">科学为事故防御</tspan></text></g>
<g id="p2h"><rect class="rp" x="547" y="2492" width="178" height="26" rx="4"/><text class="tp" x="553" y="2509">二、强化安全管理，落实安全措施</text></g>
<g id="p2h1"><rect class="rp" x="293" y="2274" width="233" height="68" rx="4"/><text class="tp e" x="520" y="2291"><tspan x="520">学文化知识，更</tspan><tspan x="520" dy="14.4">培养学生的安全意</tspan><tspan x="520" dy="14.4">，在遇到突发安全</tspan></text></g>
<g id="p2h2"><rect class="rp" x="293" y="2368" width="233" height="194" rx="4"/><text class="tp e" x="520" y="2383"><tspan x="520">的食堂要时时把关</tspan><tspan x="520" dy="14.35">，特别是中小学</tspan><tspan x="520" dy="14.35">。对于学生的科</tspan><tspan x="520" dy="14.35">控制把关，防止任</tspan><tspan x="520" dy="14.35">，在一些偏远地区</tspan><tspan x="520" dy="14.35">对学校学生进行恐</tspan><tspan x="520" dy="14.35">屡屡有发生。学校</tspan><tspan x="520" dy="14.35">，在学校的门口</tspan><tspan x="520" dy="14.35">相关人士，特别</tspan><tspan x="520" dy="14.35">青年对学校正常</tspan><tspan x="520" dy="14.35">对学生的人身安全</tspan><tspan x="520" dy="14.35">的身心健康能有保</tspan></text></g>
<g id="p2h3"><rect class="rp" x="293" y="2590" width="233" height="223" rx="4"/><text class="tp e" x="520" y="2604"><tspan x="520">学校校门做到24</tspan><tspan x="520" dy="14.4">进入校园必须通</tspan><tspan x="520" dy="14.4">禁止任何人以任何</tspan><tspan x="520" dy="14.4">、有毒有化学危</tspan><tspan x="520" dy="14.4">事件，一旦发现</tspan><tspan x="520" dy="14.4">要报警来保障学</tspan><tspan x="520" dy="14.4">安全护卫工作的</tspan><tspan x="520" dy="14.4">行相关工作职责</tspan><tspan x="520" dy="14.4">。学校不但要对</tspan><tspan x="520" dy="14.4">，对于突发的安</tspan><tspan x="520" dy="14.4">适当的演习。诸</tspan><tspan x="520" dy="14.4">安全事件，很</tspan><tspan x="520" dy="14.4">的重视不够，对</tspan><tspan x="520" dy="14.4">可估量的损失，付</tspan></text></g>

<g id="n4"><rect x="747" y="3473" width="240" height="32" rx="16" fill="#7096e8"/><text class="mn" x="867" y="3493.5">防溺水应急预案方案（精选篇4）</text></g>
<g id="b4a"><rect class="rb" x="492" y="2839" width="234" height="66" rx="4"/><text class="tb" x="498" y="2855"><tspan x="498">根据要求，为了进一步加强应急救助工作，确</tspan><tspan x="498" dy="14.5">保全乡公民在溺水的第一时间应急救助队伍赶</tspan><tspan x="498" dy="14.5">到现场搜救，减少溺水伤亡事件的发生。经研</tspan><tspan x="498" dy="14.5">究特制定以下应急预案。</tspan></text></g>
<g id="b4b"><rect class="rb" x="625" y="3137" width="101" height="24" rx="4"/><text class="tb" x="631" y="3153">一、加强组织领导</text></g>
<g id="b4b1"><rect class="rb" x="371" y="2932" width="233" height="67" rx="4"/><text class="tb e" x="598" y="2949"><tspan x="598">乡调整溺水救助应急工作小组，</tspan><tspan x="598" dy="14.4">主任，副组长及各村党支部书记、</tspan><tspan x="598" dy="14.4">）一把手负责任。应急小组下设</tspan></text></g>
<g id="b4b2"><rect class="rb" x="493" y="3024" width="111" height="25" rx="4"/><text class="tb" x="499" y="3040.5">（一）应急搜救队：</text></g>
<g id="b4b3"><rect class="rb" x="560" y="3073" width="44" height="25" rx="4"/><text class="tb" x="566" y="3089.5">队长：</text></g>
<g id="b4b4"><rect class="rb" x="560" y="3123" width="44" height="24" rx="4"/><text class="tb" x="566" y="3139">成员：</text></g>
<g id="b4b4a"><rect class="rb" x="437" y="3123" width="102" height="24" rx="4"/><text class="tb" x="443" y="3139">（二）医疗救护队</text></g>
<g id="b4b5"><rect class="rb" x="560" y="3172" width="44" height="25" rx="4"/><text class="tb" x="566" y="3188.5">队长：</text></g>
<g id="b4b6"><rect class="rb" x="560" y="3222" width="44" height="24" rx="4"/><text class="tb" x="566" y="3238">成员：</text></g>
<g id="b4b6a"><rect class="rb" x="437" y="3222" width="102" height="24" rx="4"/><text class="tb" x="443" y="3238">（三）后勤保障队</text></g>
<g id="b4b7"><rect class="rb" x="560" y="3271" width="44" height="24" rx="4"/><text class="tb" x="566" y="3287">队长：</text></g>
<g id="b4b8"><rect class="rb" x="560" y="3321" width="44" height="24" rx="4"/><text class="tb" x="566" y="3337">成员：</text></g>
<g id="b4c"><rect class="rb" x="670" y="3688" width="56" height="23" rx="4"/><text class="tb" x="676" y="3703.5">二、职责</text></g>
<g id="b4c1"><rect class="rb" x="416" y="3371" width="233" height="68" rx="4"/><text class="tb" x="422" y="3387"><tspan x="422">1、组长：在接到溺水信息后立即在第一时间</tspan><tspan x="422" dy="14.4">赶赴现场，同时指挥应急救助人员赶赴现场，</tspan><tspan x="422" dy="14.4">并组织相关人员研究搜救、救护方案、解决在</tspan><tspan x="422" dy="14.4">搜救、救护工作中出现的难题。</tspan></text></g>
<g id="b4c2"><rect class="rb" x="416" y="3463" width="233" height="52" rx="4"/><text class="tb" x="422" y="3479"><tspan x="422">2、副组长：积极协助组长工作，听从组长指</tspan><tspan x="422" dy="14.4">挥，完成工作任务，同时各自按照分工做好自</tspan><tspan x="422" dy="14.4">己的应急工作。</tspan></text></g>
<g id="b4c3"><rect class="rb" x="416" y="3541" width="233" height="53" rx="4"/><text class="tb" x="422" y="3557"><tspan x="422">3、成员：接到指令后应第一时间赶赴现场，</tspan><tspan x="422" dy="14.4">按照组长或副组长的指令完成自己应完成的应</tspan><tspan x="422" dy="14.4">急工作。</tspan></text></g>
<g id="b4c4"><rect class="rb" x="416" y="3619" width="233" height="53" rx="4"/><text class="tb" x="422" y="3635"><tspan x="422">4、搜救队：接到指令后应第一时间赶到现场</tspan><tspan x="422" dy="14.4">，根据实际情况积极采取一切措施进行搜救工</tspan><tspan x="422" dy="14.4">作。</tspan></text></g>
<g id="b4c5"><rect class="rb" x="416" y="3697" width="233" height="38" rx="4"/><text class="tb" x="422" y="3713"><tspan x="422">5、医疗救护队：接到指令后应第一时间赶到</tspan><tspan x="422" dy="14.4">现场，采取一切措施对溺水人员进行救护。</tspan></text></g>
<g id="b4c6"><rect class="rb" x="416" y="3762" width="233" height="66" rx="4"/><text class="tb" x="422" y="3777"><tspan x="422">6、后勤保障队：接到指令后及时到位，采取</tspan><tspan x="422" dy="14.4">一切措施确保搜救、救护人员的车辆、各类搜</tspan><tspan x="422" dy="14.4">救、救护器具、药品等及时到位，并在第一时</tspan><tspan x="422" dy="14.4">间送到现场。</tspan></text></g>
<g id="b4c7"><rect class="rb" x="416" y="3855" width="233" height="95" rx="4"/><text class="tb" x="422" y="3870"><tspan x="422">7、各村、各单位、各企业：认真做好安全教</tspan><tspan x="422" dy="14.4">育宣传工作，提醒村民、职工增强安全意识，</tspan><tspan x="422" dy="14.4">看好自家孩子，负起监管责任。同时对辖区内</tspan><tspan x="422" dy="14.4">的深塘、险坝、水库等逐一排查，逐一登记造</tspan><tspan x="422" dy="14.4">册。安置"禁泳危险"警醒标志，杜绝溺水死</tspan><tspan x="422" dy="14.4">亡事件发生。</tspan></text></g>
<g id="b4c8"><rect class="rb" x="416" y="3975" width="233" height="39" rx="4"/><text class="tb" x="422" y="3991"><tspan x="422">8、乡机关各部门在接到指令后应第一时间赶</tspan><tspan x="422" dy="14.4">赴现场，按照各自的职责做好应急救助工作。</tspan></text></g>
<g id="b4d"><rect class="rb" x="670" y="4093" width="56" height="24" rx="4"/><text class="tb" x="676" y="4109">三、奖惩</text></g>
<g id="b4d1"><rect class="rb" x="416" y="4039" width="233" height="38" rx="4"/><text class="tb" x="422" y="4055"><tspan x="422">1、对在搜救、救护等应急工作中成绩突出的</tspan><tspan x="422" dy="14.4">单位、个人将给予精神和物质奖励。</tspan></text></g>
<g id="b4d2"><rect class="rb" x="416" y="4103" width="233" height="95" rx="4"/><text class="tb" x="422" y="4119"><tspan x="422">2、对在搜救、救护工作中行动迟缓、工作不</tspan><tspan x="422" dy="14.4">力、作风不实、推诿扯皮、信息不及时上报或</tspan><tspan x="422" dy="14.4">联系不通造成人员伤亡或重大后果或重大社会</tspan><tspan x="422" dy="14.4">影响的，将依据相关政策、法律、法规给予其</tspan><tspan x="422" dy="14.4">党纪、政纪处理，构成犯罪的，依法追究法律</tspan><tspan x="422" dy="14.4">责任。</tspan></text></g>
</g>
</svg>
